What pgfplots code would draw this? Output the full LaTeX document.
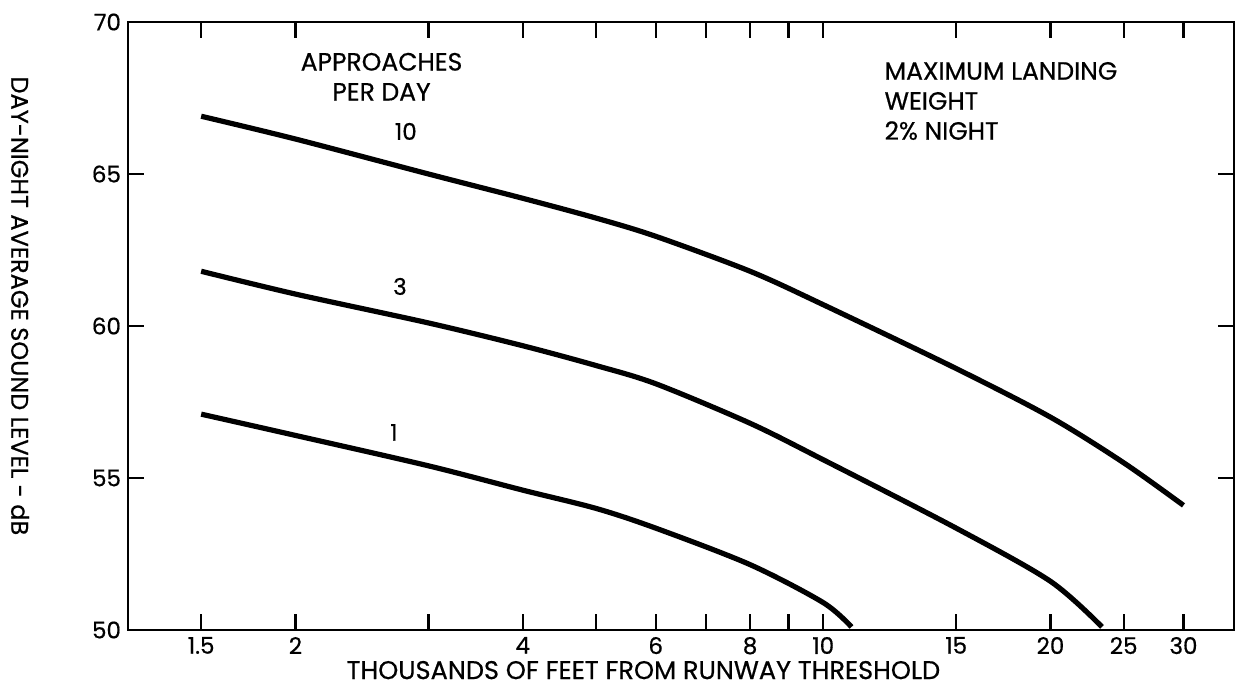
\documentclass[border=0pt]{standalone}
\usepackage{fontspec}
\setmainfont{Poppins}[FakeBold=0.6]
\usepackage{pgfplots}
\pgfplotsset{compat=1.18}
\begin{document}
\begin{tikzpicture}
\begin{axis}[
 name=ax,
 scale only axis, width=553pt, height=304pt,
 xmode=log, xmin=1.2, xmax=35, ymin=50, ymax=70,
 xtick={1.5,2,3,4,5,6,7,8,9,10,15,20,25,30},
 xticklabels={1.5,2,,4,,6,,8,,10,15,20,25,30},
 minor xtick={},
 ytick={50,55,60,65,70},
 tick align=inside, major tick length=8pt,
 tick style={line width=1.2pt, black},
 axis line style={line width=1.2pt},
 ticklabel style={font=\fontsize{11.5}{13}\selectfont},
 /pgf/number format/assume math mode=true,
 clip mode=individual,
]
\addplot[line width=2.6pt, smooth, tension=0.5] coordinates {
 (1.5,66.9) (2,66.15) (3,65.0) (4,64.2) (5,63.55) (6,62.95) (8,61.8) (10,60.7) (15,58.6) (20,57.0) (25,55.5) (30,54.1)};
\addplot[line width=2.6pt, smooth, tension=0.5] coordinates {
 (1.5,61.8) (2,61.05) (3,60.1) (4,59.35) (5,58.7) (6,58.1) (8,56.8) (10,55.6) (15,53.35) (20,51.6) (23.4,50.1)};
\addplot[line width=2.6pt, smooth, tension=0.5] coordinates {
 (1.5,57.1) (2,56.4) (3,55.4) (4,54.6) (5,54.0) (6,53.35) (8,52.15) (10,50.9) (10.9,50.1)};
\node[font=\fontsize{12.5}{15}\selectfont, align=center] at (axis cs:2.6,68.2) {APPROACHES\\PER DAY};
\node[font=\fontsize{12.5}{15}\selectfont, align=left, anchor=west] at (axis cs:11.8,67.4) {MAXIMUM LANDING\\WEIGHT\\2\% NIGHT};
\node[font=\fontsize{11.5}{13}\selectfont] at (axis cs:2.8,66.4) {10};
\node[font=\fontsize{11.5}{13}\selectfont] at (axis cs:2.75,61.3) {3};
\node[font=\fontsize{11.5}{13}\selectfont] at (axis cs:2.7,56.5) {1};
\node[font=\fontsize{12.8}{14}\selectfont] at (axis description cs:0.466,-0.066) {THOUSANDS OF FEET FROM RUNWAY THRESHOLD};
\node[font=\fontsize{12}{14}\selectfont, rotate=-90] at (axis description cs:-0.0976,0.533) {DAY-NIGHT AVERAGE SOUND LEVEL - dB};
\end{axis}
\pgfresetboundingbox
\path[use as bounding box] ([shift={(-64pt,-29pt)}]ax.south west) rectangle ([shift={(4pt,11pt)}]ax.north east);
\end{tikzpicture}
\end{document}
